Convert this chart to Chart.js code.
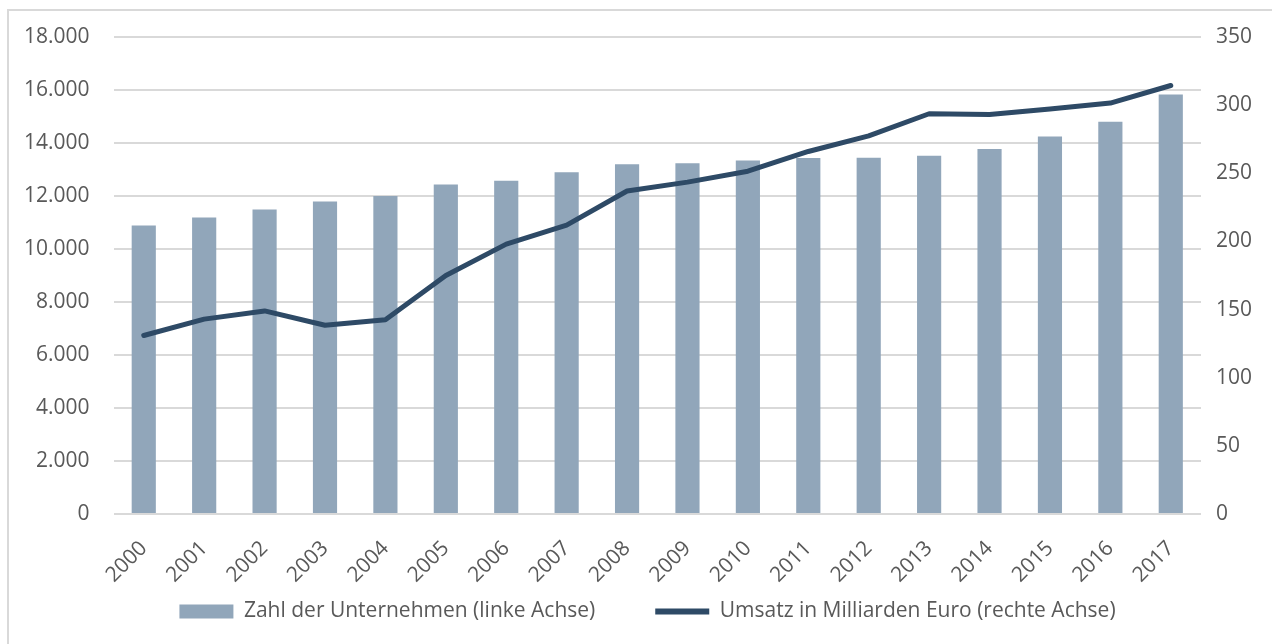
<!DOCTYPE html>
<html>
<head>
<meta charset="utf-8">
<script src="https://cdn.jsdelivr.net/npm/chart.js@4"></script>
<style>
  html, body { margin: 0; padding: 0; background: #fff; }
  #wrap { position: relative; width: 1272px; height: 644px; }
  #frame { position: absolute; left: 7px; top: 9px; right: 0; bottom: 0;
           border-left: 2px solid #d9d9d9; border-top: 2px solid #d9d9d9; }
  canvas { position: absolute; left: 0; top: 0; }
</style>
</head>
<body>
<div id="wrap">
  <div id="frame"></div>
  <canvas id="chart" width="1272" height="644"></canvas>
</div>
<script>
// Jahre
const years = ['2000', '2001', '2002', '2003', '2004', '2005', '2006', '2007', '2008',
  '2009', '2010', '2011', '2012', '2013', '2014', '2015', '2016', '2017'];

// Zahl der Unternehmen (linke Achse)
const companies = [10890, 11190, 11490, 11790, 12000, 12430, 12580, 12900, 13200,
  13240, 13340, 13430, 13440, 13520, 13770, 14250, 14800, 15830];

// Umsatz in Milliarden Euro (rechte Achse)
const revenue = [131, 143, 149, 138.5, 142.5, 175, 198, 212, 237,
  243.5, 251.5, 266, 277.5, 293.7, 293.2, 297.2, 301.5, 314.4];

const textColor = '#595959';
const gridColor = '#d9d9d9';
const fontFamily = '"Open Sans", sans-serif';
const fontSize = 21;

// legend: wide gap between the two items, small gap above the row.
// the legend box is clipped, so only its top edge is moved up.
const legendPad = 60;
const legendTop = 14;
const legendBottom = 8;
const legendShiftX = 14;
const legendSpacing = {
  id: 'legendSpacing',
  beforeInit(chart) {
    const fit = chart.legend.fit;
    chart.legend.fit = function () {
      fit.bind(chart.legend)();
      this.height = legendTop + fontSize + legendBottom;
    };
  },
  afterLayout(chart) {
    chart.legend.top -= legendPad - legendTop;
    chart.legend.left += legendShiftX;
    chart.legend.right += legendShiftX;
  }
};

const ctx = document.getElementById('chart').getContext('2d');
new Chart(ctx, {
  data: {
    labels: years,
    datasets: [
      {
        type: 'line',
        label: 'Umsatz in Milliarden Euro (rechte Achse)',
        data: revenue,
        yAxisID: 'y2',
        borderColor: '#2e4a66',
        backgroundColor: '#2e4a66',
        borderWidth: 5,
        pointRadius: 0,
        tension: 0,
        borderCapStyle: 'round',
        borderJoinStyle: 'round',
        order: 1
      },
      {
        type: 'bar',
        label: 'Zahl der Unternehmen (linke Achse)',
        data: companies,
        yAxisID: 'y',
        backgroundColor: '#91a6ba',
        barPercentage: 0.4,
        categoryPercentage: 1.0,
        order: 2
      }
    ]
  },
  plugins: [legendSpacing],
  options: {
    responsive: false,
    animation: false,
    layout: {
      padding: { left: 0, right: 5, top: 37, bottom: 14 }
    },
    plugins: {
      tooltip: { enabled: false },
      legend: {
        position: 'bottom',
        reverse: true,
        labels: {
          color: textColor,
          font: { size: fontSize, family: fontFamily },
          usePointStyle: true,
          pointStyleWidth: 54,
          boxHeight: 14,
          padding: legendPad,
          generateLabels: function (chart) {
            const items = Chart.defaults.plugins.legend.labels.generateLabels(chart);
            items.forEach(function (it) {
              const ds = chart.data.datasets[it.datasetIndex];
              if (ds.type === 'line') {
                it.pointStyle = 'line';
                it.lineWidth = 6;
                it.strokeStyle = ds.borderColor;
              } else {
                it.pointStyle = 'rect';
                it.lineWidth = 0;
              }
            });
            return items;
          }
        }
      }
    },
    scales: {
      x: {
        offset: true,
        grid: { display: false },
        border: { display: false },
        ticks: {
          color: textColor,
          font: { size: fontSize, family: fontFamily },
          maxRotation: 45,
          minRotation: 45,
          padding: 14
        },
        // rotated year labels: no overhang padding, fixed band height
        afterFit: function (scale) {
          scale.paddingLeft = 0;
          scale.paddingRight = 0;
          scale.height = 73;
        }
      },
      y: {
        position: 'left',
        min: 0,
        max: 18000,
        grid: { color: gridColor, lineWidth: 2, drawTicks: false },
        border: { display: false },
        ticks: {
          stepSize: 2000,
          color: textColor,
          padding: 24,
          font: { size: fontSize, family: fontFamily },
          callback: function (v) { return v.toLocaleString('de-DE'); }
        }
      },
      y2: {
        position: 'right',
        min: 0,
        max: 350,
        grid: { drawOnChartArea: false, drawTicks: false },
        border: { display: false },
        ticks: {
          stepSize: 50,
          color: textColor,
          padding: 15,
          font: { size: fontSize, family: fontFamily }
        }
      }
    }
  }
});
</script>
</body>
</html>
